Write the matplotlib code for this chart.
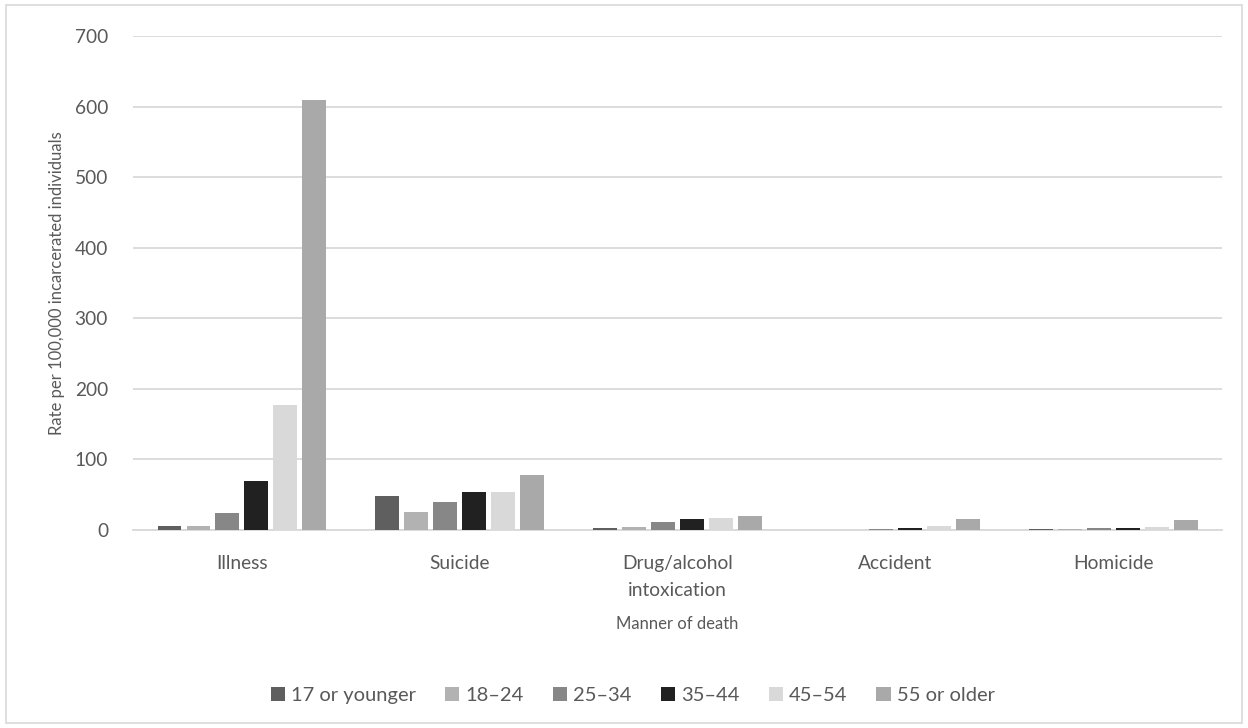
import matplotlib
matplotlib.use("Agg")
import matplotlib.pyplot as plt
from matplotlib.patches import Rectangle
import numpy as np

plt.rcParams['font.family'] = ['Lato', 'DejaVu Sans']

# Manner of death categories and rates per 100,000 by age group
categories = ["Illness", "Suicide", "Drug/alcohol\nintoxication", "Accident", "Homicide"]
age_groups = ["17 or younger", "18\u201324", "25\u201334", "35\u201344", "45\u201354", "55 or older"]

rate_17_or_younger = [6, 48, 3, 0, 1.5]
rate_18_24 = [5.5, 25.5, 4.5, 0.5, 1]
rate_25_34 = [24, 40, 11, 1.5, 2.5]
rate_35_44 = [69, 54, 15.5, 3, 2.5]
rate_45_54 = [177, 54, 17, 6, 4.5]
rate_55_or_older = [610, 78, 20, 16, 14]

series = [rate_17_or_younger, rate_18_24, rate_25_34, rate_35_44, rate_45_54, rate_55_or_older]
colors = ["#5f5f5f", "#b2b2b2", "#878787", "#212121", "#d9d9d9", "#a9a9a9"]

y_ticks = [0, 100, 200, 300, 400, 500, 600, 700]
text_color = "#595959"

fig = plt.figure(figsize=(12.48, 7.28), dpi=100)
ax = fig.add_axes([0.1066, 0.272, 0.9792 - 0.1066, 0.9505 - 0.272])

x = np.arange(len(categories))
step = 0.133
width = 0.11
for i, (vals, col, lab) in enumerate(zip(series, colors, age_groups)):
    offs = (i - 2.5) * step
    ax.bar(x + offs, vals, width=width, color=col, label=lab, zorder=3)

ax.set_xlim(-0.5, 4.5)
ax.set_ylim(0, 700)
ax.set_yticks(y_ticks)
ax.set_xticks(x)
ax.set_xticklabels(categories, linespacing=1.75)
ax.tick_params(axis="both", length=0, colors=text_color, labelsize=13.8)
ax.tick_params(axis="y", pad=18)
ax.tick_params(axis="x", pad=18)

ax.grid(axis="y", color="#d9d9d9", linewidth=1.3, zorder=0)
for s in ["top", "right", "left"]:
    ax.spines[s].set_visible(False)
ax.spines["bottom"].set_color("#d9d9d9")
ax.spines["bottom"].set_linewidth(1.3)

ax.set_ylabel("Rate per 100,000 incarcerated individuals", fontsize=12, color=text_color,
              labelpad=7)
ax.set_xlabel("Manner of death", fontsize=12, color=text_color, labelpad=12)

handles, labels = ax.get_legend_handles_labels()
fig.legend(handles, labels, loc="center", bbox_to_anchor=(0.507, 0.045), ncol=6,
           frameon=False, fontsize=14.5, labelcolor=text_color,
           handlelength=0.7, handleheight=0.7, handletextpad=0.3, columnspacing=1.45)

# Outer border around the chart area
fig.patches.append(Rectangle((0.005, 0.007), 0.99, 0.986, transform=fig.transFigure,
                             fill=False, edgecolor="#d9d9d9", linewidth=1.2))

fig.savefig("out.png", dpi=100, facecolor="white")
